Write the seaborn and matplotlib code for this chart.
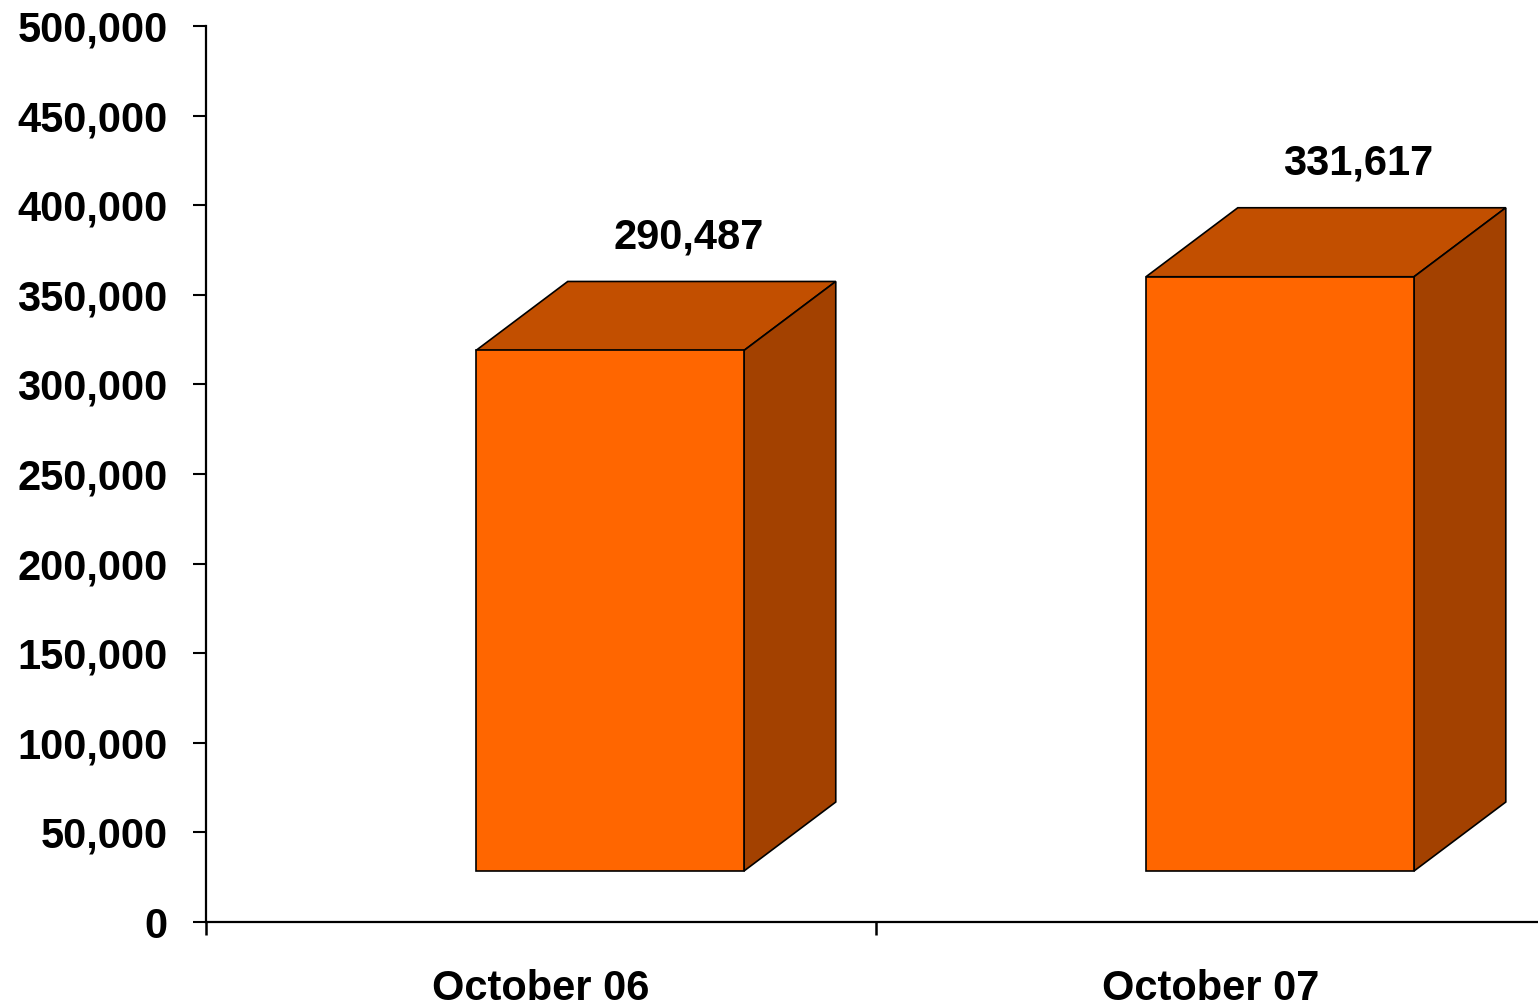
import matplotlib
matplotlib.use("Agg")
import matplotlib.pyplot as plt
import seaborn as sns
from matplotlib.patches import Polygon
from matplotlib.ticker import FixedLocator, StrMethodFormatter

# data
MONTHS = ["October 06", "October 07"]
VALUES = [290487, 331617]

# fake 3D look (data units)
BASE = 28460        # front face sits a bit above the floor
DEPTH_X = 0.137     # depth shift to the right
DEPTH_Y = 38500     # depth shift upwards
SHIFT_X = 0.103     # front face offset from category centre

FRONT = "#FF6600"
TOP = "#C24F00"
SIDE = "#A34100"

sns.set_style("ticks")
plt.rcParams["font.family"] = ["Liberation Sans", "DejaVu Sans"]
plt.rcParams["font.weight"] = "bold"
plt.rcParams["text.color"] = "black"

fig = plt.figure(figsize=(15.38, 10.08), dpi=100)
ax = fig.add_axes([0.1339, 0.0853, 0.8713, 0.8889])

sns.barplot(x=MONTHS, y=VALUES, width=0.4, color=FRONT, saturation=1,
            edgecolor="black", linewidth=1.2, ax=ax, zorder=3)

for i, (patch, val) in enumerate(zip(ax.patches, VALUES)):
    patch.set_x(patch.get_x() + SHIFT_X)
    patch.set_y(BASE)
    x0 = patch.get_x()
    x1 = x0 + patch.get_width()
    y0 = BASE
    y1 = BASE + val
    top = Polygon([(x0, y1), (x1, y1), (x1 + DEPTH_X, y1 + DEPTH_Y), (x0 + DEPTH_X, y1 + DEPTH_Y)],
                  closed=True, facecolor=TOP, edgecolor="black", linewidth=1.2, zorder=2)
    side = Polygon([(x1, y0), (x1 + DEPTH_X, y0 + DEPTH_Y), (x1 + DEPTH_X, y1 + DEPTH_Y), (x1, y1)],
                   closed=True, facecolor=SIDE, edgecolor="black", linewidth=1.2, zorder=2)
    ax.add_patch(top)
    ax.add_patch(side)
    ax.annotate(f"{val:,}", xy=(i + 0.22, y1 + DEPTH_Y), xytext=(0, 24),
                textcoords="offset points", ha="center", va="baseline",
                fontsize=30, fontweight="bold", color="black")

ax.set_xlim(-0.5, 1.5)
ax.set_ylim(0, 500000)
ax.set_yticks(range(0, 500001, 50000))
ax.yaxis.set_major_formatter(StrMethodFormatter("{x:,.0f}"))
ax.set_xlabel("")
ax.set_ylabel("")

sns.despine(ax=ax, top=True, right=True)
for sp in ["left", "bottom"]:
    ax.spines[sp].set_linewidth(1.6)
    ax.spines[sp].set_color("black")

ax.tick_params(axis="y", direction="out", length=9.5, width=1.5, pad=18,
               labelsize=30, colors="black")
ax.tick_params(axis="x", which="major", length=0, pad=34, labelsize=30,
               labelcolor="black")
ax.xaxis.set_minor_locator(FixedLocator([-0.5, 0.5, 1.5]))
ax.tick_params(axis="x", which="minor", direction="out", length=9.5, width=1.8,
               color="black")
for lab in ax.get_xticklabels() + ax.get_yticklabels():
    lab.set_fontweight("bold")

fig.savefig("out.png", dpi=100, facecolor="white")
